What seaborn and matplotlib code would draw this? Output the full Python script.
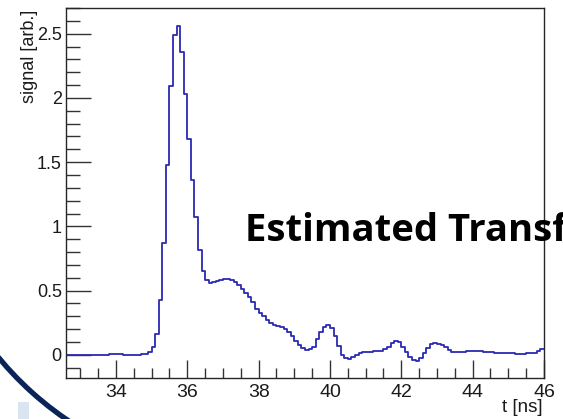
import numpy as np
import pandas as pd
import matplotlib
matplotlib.use("Agg")
import matplotlib.pyplot as plt
from matplotlib.patches import Arc, Rectangle
from matplotlib.ticker import MultipleLocator, FuncFormatter
import seaborn as sns

# Histogram of the transfer signal: 0.1 ns bins starting at 32.6 ns
t_start = 32.6
bin_width = 0.1
signal = [
    # 32.6 - 33.8
    0.0, 0.0, 0.0, 0.0, 0.0, 0.0, 0.0, 0.0, 0.0, 0.0, 0.0, 0.0,
    # 33.8 - 34.7
    0.01, 0.01, 0.01, 0.01, 0.0, 0.0, 0.0, 0.0, 0.0,
    # 34.7 - 35.3
    0.01, 0.01, 0.02, 0.06, 0.165, 0.43,
    # 35.3 - 36.3
    0.87, 1.48, 2.09, 2.49, 2.56, 2.36, 2.03, 1.68, 1.36, 1.07,
    # 36.3 - 37.3
    0.82, 0.65, 0.58, 0.56, 0.565, 0.575, 0.583, 0.59, 0.59, 0.58,
    # 37.3 - 38.3
    0.565, 0.545, 0.515, 0.485, 0.45, 0.41, 0.36, 0.325, 0.30, 0.27,
    # 38.3 - 39.3
    0.245, 0.23, 0.222, 0.215, 0.205, 0.175, 0.145, 0.11, 0.08, 0.055,
    # 39.3 - 40.3
    0.04, 0.045, 0.065, 0.12, 0.18, 0.22, 0.23, 0.21, 0.15, 0.07,
    # 40.3 - 41.3
    0.0, -0.025, -0.033, -0.015, 0.0, 0.015, 0.02, 0.025, 0.025, 0.027,
    # 41.3 - 42.3
    0.027, 0.03, 0.045, 0.065, 0.09, 0.11, 0.10, 0.065, 0.02, -0.015,
    # 42.3 - 43.3
    -0.04, -0.045, -0.025, 0.015, 0.055, 0.085, 0.096, 0.085, 0.075, 0.06,
    # 43.3 - 44.3
    0.04, 0.025, 0.023, 0.023, 0.023, 0.033, 0.033, 0.033, 0.033, 0.033,
    # 44.3 - 45.3
    0.023, 0.023, 0.023, 0.013, 0.013, 0.013, 0.013, 0.013, 0.013, 0.005,
    # 45.3 - 46.0
    0.005, 0.01, 0.013, 0.015, 0.018, 0.03, 0.045,
]
x_ticks = [34, 36, 38, 40, 42, 44, 46]
y_ticks = [0, 0.5, 1, 1.5, 2, 2.5]

n_bins = len(signal)
edges = np.round(t_start + bin_width * np.arange(n_bins + 1), 3)
# step outline: each bin value held from its lower edge to the next edge
step_df = pd.DataFrame({"t": edges, "signal": list(signal) + [signal[-1]]})

sns.set_style("white")
plt.rcParams["font.family"] = ["Liberation Sans", "DejaVu Sans"]

W, H = 563, 419
fig = plt.figure(figsize=(W / 100, H / 100), dpi=100)
fig.patch.set_facecolor("white")

# slide decoration behind the plot: a dark ring segment and a pale square
deco = fig.add_axes([0, 0, 1, 1], zorder=0)
deco.set_xlim(0, W)
deco.set_ylim(H, 0)
deco.axis("off")
deco.add_patch(Arc((250, 150), 652, 652, theta1=112, theta2=152,
                   edgecolor="#0b2458", linewidth=3.8))
deco.add_patch(Rectangle((18, 402), 11, 17, facecolor="#dbe5f1", edgecolor="none"))

ax = fig.add_axes([66 / W, 1 - 378 / H, (544 - 66) / W, (378 - 8) / H], zorder=1)
ax.set_facecolor("white")

sns.lineplot(data=step_df, x="t", y="signal", estimator=None, sort=False,
             drawstyle="steps-post", color="#2a2ab4", linewidth=1.3, ax=ax)

ax.set_xlim(edges[0], edges[-1])
ax.set_ylim(-0.18, 2.7)
ax.set_xlabel("")
ax.set_ylabel("")

ax.set_xticks(x_ticks)
ax.set_yticks(y_ticks)
ax.xaxis.set_minor_locator(MultipleLocator(0.5))
ax.yaxis.set_minor_locator(MultipleLocator(0.1))
ax.yaxis.set_major_formatter(FuncFormatter(lambda v, p: f"{v:g}"))
ax.tick_params(axis="both", which="both", direction="in", colors="#333333",
               width=1.0, top=False, right=False, left=True, bottom=True)
ax.tick_params(axis="x", which="major", length=13, pad=4, labelsize=14, labelcolor="#1a1a1a")
ax.tick_params(axis="x", which="minor", length=7)
ax.tick_params(axis="y", which="major", length=18, pad=3, labelsize=13, labelcolor="#1a1a1a")
ax.tick_params(axis="y", which="minor", length=10)
for s in ax.spines.values():
    s.set_visible(True)
    s.set_color("#262626")
    s.set_linewidth(1.0)

fig.text(29 / W, 1 - 10 / H, "signal [arb.]", rotation=90, ha="center", va="top",
         fontsize=13, color="#1a1a1a")
fig.text(543 / W, 1 - 412 / H, "t [ns]", ha="right", va="baseline",
         fontsize=13.5, color="#1a1a1a")

# slide caption laid over the plot, running past the right edge
fig.text(245 / W, 1 - 241 / H, "Estimated Transfer Function", ha="left", va="baseline",
         fontsize=27.5, fontweight="bold", family="Open Sans", color="black", zorder=5)

fig.savefig("out.png", dpi=100, facecolor="white")
